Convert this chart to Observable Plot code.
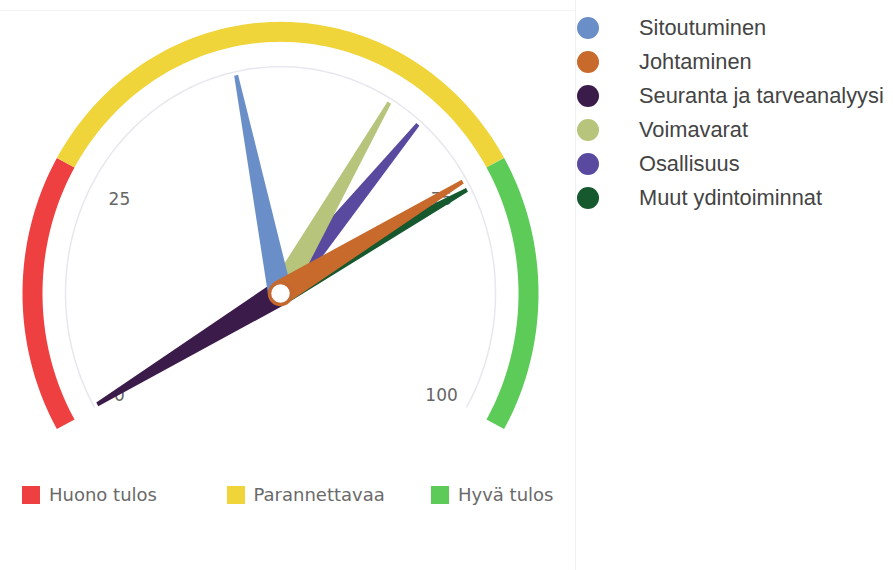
<!DOCTYPE html>
<html>
<head>
<meta charset="utf-8">
<script src="https://cdn.jsdelivr.net/npm/d3@7"></script>
<script src="https://cdn.jsdelivr.net/npm/@observablehq/plot@0.6"></script>
<style>
  body { margin: 0; background: #fff; }
  #wrap { position: relative; width: 893px; height: 570px; overflow: hidden; background: #fff; }
  #gauge { position: absolute; left: 0; top: 0; }
  #divider { position: absolute; left: 575px; top: 0; width: 1px; height: 570px; background: #f0f0f0; }
  #topline { position: absolute; left: 0; top: 10px; width: 575px; height: 1px; background: #f4f4f4; }
  #bands { position: absolute; left: 22px; top: 484px; display: flex; }
  .band { display: flex; align-items: center; width: 204.5px; font: 18px "DejaVu Sans", sans-serif; color: #6a6a6a; }
  .band i { display: inline-block; width: 18px; height: 18px; margin-right: 9px; }
  #series { position: absolute; left: 577px; top: 11px; }
  .row { display: flex; align-items: center; height: 34px; font: 21.8px "Liberation Sans", Arial, sans-serif; color: #444; }
  .row i { display: inline-block; width: 22px; height: 22px; border-radius: 50%; margin-right: 40px; }
</style>
</head>
<body>
<div id="wrap">
  <div id="topline"></div>
  <div id="divider"></div>
  <div id="gauge"></div>
  <div id="bands"></div>
  <div id="series"></div>
</div>
<script>
// Dial series (one needle each), values on a 0–100 scale
const seriesNames = ["Sitoutuminen", "Johtaminen", "Seuranta ja tarveanalyysi", "Voimavarat", "Osallisuus", "Muut ydintoiminnat"];
const seriesValues = [45, 75, 0, 63, 67, 76];
const seriesColors = ["#6a8fc8", "#c86a2c", "#3b1b4a", "#b6c57b", "#5a4a9f", "#17592f"];

// Coloured plot bands round the rim
const bandNames = ["Huono tulos", "Parannettavaa", "Hyvä tulos"];
const bandFrom = [0, 25, 75];
const bandTo = [25, 75, 100];
const bandColors = ["#ee4040", "#efd43a", "#5ccb58"];

// Scale labels
const tickValues = [0, 25, 75, 100];

// Gauge geometry (value -> angle from vertical, clockwise)
const startAngle = -120, endAngle = 120;
const ang = v => (startAngle + (endAngle - startAngle) * v / 100) * Math.PI / 180;
const px = (v, r) => r * Math.sin(ang(v));
const py = (v, r) => r * Math.cos(ang(v));

const W = 575, H = 450;
const cx = 280, cy = 293, ky = 1.055; // pivot position and vertical stretch of the pane
const bandR = 248, bandW = 20, paneR = 215, labelR = 186, needleR = 211;

// Sampled arc for a value interval
function arc(from, to, r) {
  const vs = d3.range(from, to, 0.5).concat([to]);
  return vs.map(v => ({x: px(v, r), y: py(v, r)}));
}

// Needle as a tapered quad: base half-width at the pivot, narrow tip
function needle(v, baseHW = 12, tipHW = 2) {
  const a = ang(v), s = Math.sin(a), c = Math.cos(a);
  return [0, needleR].map((r, i) => {
    const w = i === 0 ? baseHW : tipHW;
    return {x1: r * s + w * c, y1: r * c - w * s, x2: r * s - w * c, y2: r * c + w * s};
  });
}

// Drawing order: later needles lie on top
const needleOrder = [5, 4, 3, 2, 0, 1];

const marks = [
  ...bandNames.map((n, i) => Plot.line(arc(bandFrom[i], bandTo[i], bandR), {
    x: "x", y: "y", stroke: bandColors[i], strokeWidth: bandW, strokeLinecap: "butt", curve: "linear"
  })),
  Plot.line(arc(0, 100, paneR), {x: "x", y: "y", stroke: "#e6e8ee", strokeWidth: 1.5}),
  Plot.text(tickValues, {
    x: v => px(v, labelR), y: v => py(v, labelR), text: v => String(v), dy: 4,
    fill: "#666", fontSize: 17, fontFamily: "DejaVu Sans", textAnchor: "middle", lineAnchor: "middle"
  }),
  ...needleOrder.map(i => Plot.area(needle(seriesValues[i]), {
    x1: "x1", y1: "y1", x2: "x2", y2: "y2", fill: seriesColors[i], curve: "linear"
  })),
  Plot.dot([0], {x: () => 0, y: () => 0, r: 11, fill: "#fff", stroke: "#c3682f", strokeWidth: 3.5})
];

const chart = Plot.plot({
  width: W, height: H,
  marginTop: 0, marginRight: 0, marginBottom: 0, marginLeft: 0,
  x: {domain: [-cx, W - cx], range: [0, W], axis: null},
  y: {domain: [(cy - H) / ky, cy / ky], range: [H, 0], axis: null},
  marks
});
document.getElementById("gauge").append(chart);

// Band legend below the gauge
const bandsEl = document.getElementById("bands");
bandNames.forEach((n, i) => {
  const d = document.createElement("div");
  d.className = "band";
  d.innerHTML = `<i style="background:${bandColors[i]}"></i><span></span>`;
  d.querySelector("span").textContent = n;
  bandsEl.append(d);
});

// Series legend on the right
const seriesEl = document.getElementById("series");
seriesNames.forEach((n, i) => {
  const d = document.createElement("div");
  d.className = "row";
  d.innerHTML = `<i style="background:${seriesColors[i]}"></i><span></span>`;
  d.querySelector("span").textContent = n;
  seriesEl.append(d);
});
</script>
</body>
</html>
